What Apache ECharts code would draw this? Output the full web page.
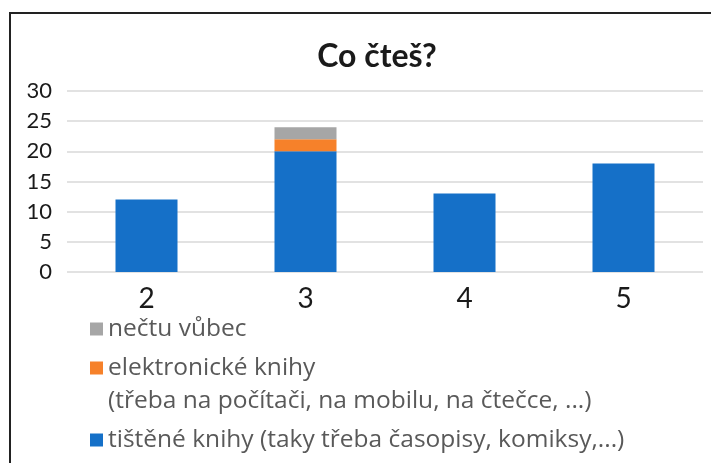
<!DOCTYPE html>
<html>
<head>
<meta charset="utf-8">
<script src="https://cdn.jsdelivr.net/npm/echarts@6/dist/echarts.min.js"></script>
<style>
html,body{margin:0;padding:0;background:#fff;}
#c{width:711px;height:463px;}
</style>
</head>
<body>
<div id="c"></div>
<script>
const categories = ['2', '3', '4', '5'];
const yTicks = [0, 5, 10, 15, 20, 25, 30];
const printedName = 'tištěné knihy (taky třeba časopisy, komiksy,...)';
const ebookName = 'elektronické knihy\n(třeba na počítači, na mobilu, na čtečce, ...)';
const noneName = 'nečtu vůbec';
const printed = [12, 20, 13, 18];
const ebooks = [0, 2, 0, 0];
const none = [0, 2, 0, 0];

const chart = echarts.init(document.getElementById('c'), null, {renderer: 'canvas'});
const legendFont = {fontFamily: 'Open Sans', fontSize: 24.5, color: '#595959'};
function mkLegend(name, top) {
  return {
    data: [name], orient: 'vertical', left: 90, top: top, padding: 0,
    icon: 'rect', itemWidth: 13, itemHeight: 13, selectedMode: false,
    formatter: n => n.split('\n')[0],
    textStyle: Object.assign({lineHeight: 32}, legendFont)
  };
}
const ebookLines = ebookName.split('\n');
chart.setOption({
  animation: false,
  title: {
    text: 'Co čteš?', left: 372, top: 52, textAlign: 'center', textVerticalAlign: 'middle',
    textStyle: {fontFamily: 'Lato', fontWeight: 'bold', fontSize: 32, color: '#1a1a1a'}
  },
  graphic: [{
    type: 'rect', silent: true, z: -1,
    shape: {x: 10, y: 13, width: 720, height: 480},
    style: {fill: 'none', stroke: '#222', lineWidth: 2}
  }, {
    type: 'text', silent: true, left: 108, top: 401 - 16,
    style: {
      text: ebookLines[1], lineHeight: 32, fill: legendFont.color,
      font: legendFont.fontSize + 'px "' + legendFont.fontFamily + '"'
    }
  }],
  legend: [
    mkLegend(noneName, 313),
    mkLegend(ebookName, 352),
    mkLegend(printedName, 424)
  ],
  grid: {left: 67, right: 8, top: 91, bottom: 191, containLabel: false, outerBoundsMode: 'none'},
  xAxis: {
    type: 'category', data: categories,
    axisLine: {show: false}, axisTick: {show: false},
    axisLabel: {fontFamily: 'Lato', fontSize: 28, color: '#1a1a1a', margin: 13}
  },
  yAxis: {
    type: 'value', min: yTicks[0], max: yTicks[yTicks.length - 1], interval: 5,
    axisLine: {show: false}, axisTick: {show: false},
    axisLabel: {fontFamily: 'Lato', fontSize: 22, color: '#1a1a1a', margin: 15},
    splitLine: {lineStyle: {color: '#d9d9d9', width: 1.5}}
  },
  series: [
    {name: printedName, type: 'bar', stack: 'a', data: printed, barWidth: 62, itemStyle: {color: '#1570c8'}},
    {name: ebookName, type: 'bar', stack: 'a', data: ebooks, barWidth: 62, itemStyle: {color: '#f6812a'}},
    {name: noneName, type: 'bar', stack: 'a', data: none, barWidth: 62, itemStyle: {color: '#a6a6a6'}}
  ]
});
</script>
</body>
</html>
